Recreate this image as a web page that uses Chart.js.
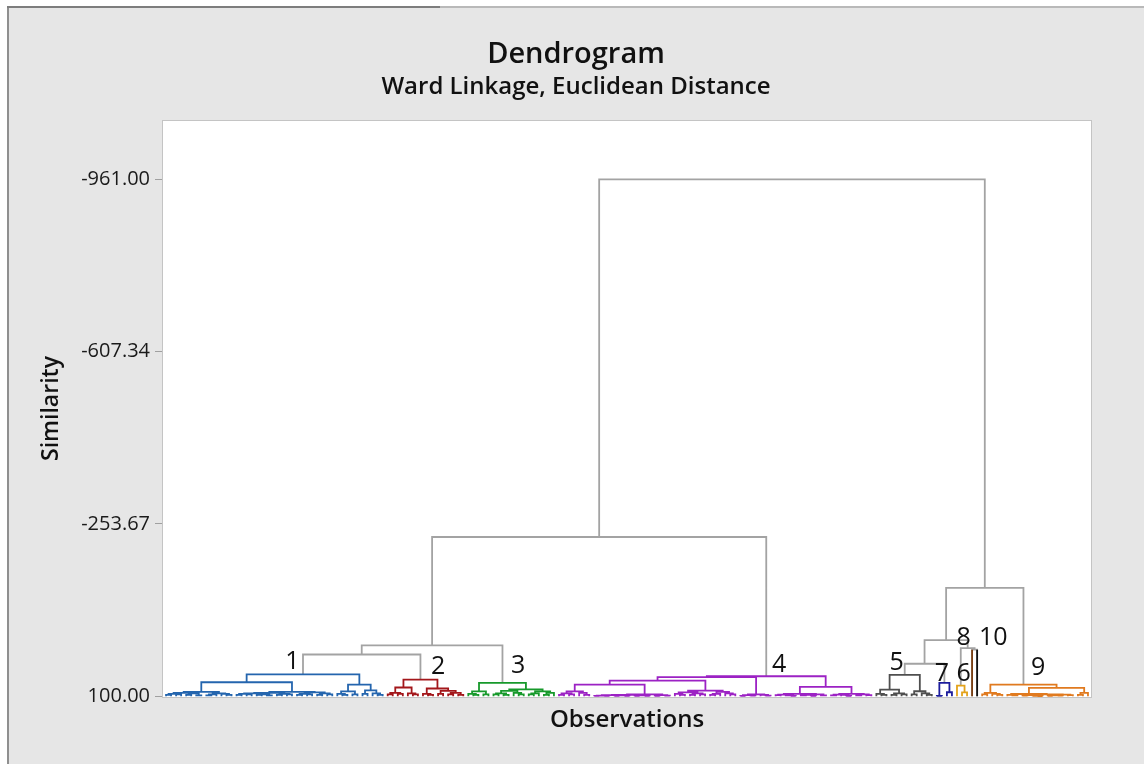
<!DOCTYPE html>
<html>
<head>
<meta charset="utf-8">
<script src="https://cdn.jsdelivr.net/npm/chart.js@4.4.1/dist/chart.umd.min.js"></script>
<style>
  html, body { margin: 0; padding: 0; background: #fff; }
  #frame { position: absolute; left: 7px; top: 6px; width: 1137px; height: 758px; background: #e6e6e6;
           border-left: 2px solid #8f8f8f; border-top: 2px solid #b9b9b9; }
  #topdark { position: absolute; left: 7px; top: 6px; width: 433px; height: 2px; background: #7d7d7d; }
  #wrap { position: absolute; left: 0; top: 0; width: 1144px; height: 764px; }
</style>
</head>
<body>
<div id="frame"></div><div id="topdark"></div>
<div id="wrap"><canvas id="myChart"></canvas></div>
<script>
// merge node = [similarity, left, right], leaf = 0
const cluster1 = [55,
  [71.2,
    [91, [93, [95,[97,0,0],[96,0,0]], [94,[97,0,0],[98,0,0]]],
         [94, [96,[98,0,0],0], [95,0,[97,0,0]]]],
    [91, [93, [94, [95,[97,0,0],[96,0,0]], [96,[97,0,0],[98,0,0]]], [95,[97,0,0],[96,0,0]]],
         [92, [95,[97,0,0],[96,0,0]], [94,[97,0,0],[96,0,0]]]]],
  [75.9,
    [90, [95,0,[97,0,0]], [96,0,0]],
    [88, [95,0,0], [94,0,[97,0,0]]]]];
const cluster2 = [65.7,
  [82, [93,[96,0,0],[95,0,0]], [94,0,[96,0,0]]],
  [84, [95,0,[97,0,0]], [89,[95,0,0],[93,[96,0,0],[97,0,0]]]]];
const cluster3 = [72.7,
  [90, [95,0,[97,0,0]], [96,0,0]],
  [86, [89, [94,[96,0,0],[97,0,0]], [93,0,[96,0,0]]],
       [90, [94,[96,0,0],0], [93,[97,0,0],0]]]];
const cluster4 = [58.9,
  [60.9,
    [67.7,
      [75.9,
        [90, [94,[97,0,0],[96,0,0]], [93,0,[97,0,0]]],
        [96, [97, [97.5,[98.5,[99.2,0,0],[99,0,0]],[98.2,[99,0,0],[99.3,0,0]]], [98,[99,0,0],[99.2,0,0]]],
             [97.5,[99,0,0],[98.5,0,0]]]],
      [88.3,
        [92, [95,0,[97,0,0]], [94,[97,0,0],[96,0,0]]],
        [91, [95,[97,0,0],0], [94,0,[96,0,0]]]]],
    [96, [97.5,[99,0,0],[98.5,0,0]], [97,0,[98.5,0,0]]]],
  [80.9,
    [95, [96.5,[97.5,0,0],[98,0,[99,0,0]]], [96,[97,[98,0,0],[99,0,0]],[98,0,0]]],
    [95, [96.5,[98,0,0],[97,0,[99,0,0]]], [96,[98,0,0],[97.5,0,0]]]]];
const cluster5 = [56,
  [86.2, [95,0,[97,0,0]], [94,[97,0,0],[96,0,0]]],
  [89.7, [96,0,0], [94,0,[97,0,0]]]];
const cluster6 = [78, 0, [92,0,0]];
const cluster7 = [72.6, [99,0,0], [91.8,0,0]];
const cluster8 = 0;
const cluster9 = [75.9,
  [93.2, [96,0,0], [95,0,[97,0,0]]],
  [82.9,
    [95.3, [97,0,[98,0,0]],
           [96, [97.5,[98.5,0,0],[99,0,[99.5,0,0]]], [96.5,[98,[99,0,0],[98.5,0,0]],[97.5,0,0]]]],
    [93.2, [97,0,0], 0]]];
const cluster10 = 0;

// joins between the clusters ('cN' = cluster N)
const upperTree = [-961.00,
  [-227.0, [-4.3, [14.3, 'c1', 'c2'], 'c3'], 'c4'],
  [-122.7, [-15.2, [33.2, 'c5', 'c7'], [1.3, 'c6', [4.4, 'c8', 'c10']]], 'c9']];

const clusterTrees = [cluster1, cluster2, cluster3, cluster4, cluster5, cluster6, cluster7, cluster8, cluster9, cluster10];
const clusterColors = ['#2465ae', '#a3171b', '#17992b', '#9c22c4', '#4f4f4f', '#e3a21a', '#1c1c9c', '#7b3f12', '#e07a1f', '#111111'];
const linkColor = '#a3a3a3';

const clusterLabels = ['1', '2', '3', '4', '5', '6', '7', '8', '9', '10'];
const labelX = [25.1, 54.0, 69.9, 121.7, 145.0, 158.3, 154.0, 158.3, 173.1, 164.2];
const labelY = [29.1, 40.4, 38.3, 36.3, 31.5, 54.3, 54.3, -20.7, 41.8, -20.7];

const yTickValues = [100, -253.67, -607.34, -961.00];
const yTickLabels = ['100.00', '-253.67', '-607.34', '-961.00'];

let leafCount = 0;
const segs = {};
function addLine(color, pts) {
  if (!segs[color]) segs[color] = [];
  pts.forEach(p => segs[color].push({x: p[0], y: p[1]}));
  segs[color].push({x: pts[pts.length - 1][0], y: null});
}
function place(node, color) {
  if (typeof node === 'string') {
    const k = Number(node.slice(1)) - 1;
    const r = place(clusterTrees[k], clusterColors[k]);
    r.own = clusterColors[k];
    r.single = clusterTrees[k] === 0;
    return r;
  }
  if (node === 0) return {x: leafCount++, y: 100};
  const [h, a, b] = node;
  const l = place(a, color), r = place(b, color);
  addLine(color, [[l.x, l.y], [l.x, h], [r.x, h], [r.x, r.y]]);
  if (l.single) addLine(l.own, [[l.x, l.y], [l.x, h]]);
  if (r.single) addLine(r.own, [[r.x, r.y], [r.x, h]]);
  return {x: (l.x + r.x) / 2, y: h};
}
place(upperTree, linkColor);

const datasets = Object.keys(segs).map(c => ({
  data: segs[c],
  borderColor: c,
  borderWidth: 1.8,
  pointRadius: 0,
  tension: 0,
  spanGaps: false,
  order: c === linkColor ? 2 : 1
}));

const plotBack = {
  id: 'plotBack',
  beforeDraw(chart) {
    const {ctx, chartArea: a} = chart;
    ctx.save();
    ctx.fillStyle = '#ffffff';
    ctx.fillRect(a.left, a.top, a.right - a.left, a.bottom - a.top);
    ctx.strokeStyle = '#c4c4c4';
    ctx.lineWidth = 1;
    ctx.strokeRect(a.left + 0.5, a.top + 0.5, a.right - a.left - 1, a.bottom - a.top);
    ctx.restore();
  }
};

const texts = {
  id: 'texts',
  afterDraw(chart) {
    const {ctx, chartArea: a} = chart;
    const xs = chart.scales.x, ys = chart.scales.y;
    ctx.save();
    ctx.fillStyle = '#111';
    ctx.textAlign = 'center';
    ctx.textBaseline = 'middle';
    ctx.font = '600 29px "Open Sans"';
    ctx.fillText('Dendrogram', 576, 55);
    ctx.font = '600 24px "Open Sans"';
    ctx.fillText('Ward Linkage, Euclidean Distance', 576, 87);
    ctx.fillText('Observations', (a.left + a.right) / 2, 720);
    ctx.font = '600 23px "Open Sans"';
    ctx.save();
    ctx.translate(51, (a.top + a.bottom) / 2);
    ctx.rotate(-Math.PI / 2);
    ctx.fillText('Similarity', 0, 0);
    ctx.restore();
    ctx.font = '25px "Open Sans"';
    clusterLabels.forEach((t, i) => {
      ctx.fillText(t, xs.getPixelForValue(labelX[i]), ys.getPixelForValue(labelY[i]));
    });
    ctx.restore();
  }
};

new Chart(document.getElementById('myChart'), {
  type: 'line',
  data: {datasets: datasets},
  options: {
    responsive: true,
    maintainAspectRatio: false,
    animation: false,
    layout: {padding: {top: 120, right: 52, bottom: 67, left: 0}},
    plugins: {legend: {display: false}, tooltip: {enabled: false}},
    scales: {
      x: {type: 'linear', display: false, min: -0.8, max: leafCount - 1 + 0.8},
      y: {
        type: 'linear', reverse: true, min: -1083, max: 101.5,
        afterFit(s) { s.width = 162; },
        afterBuildTicks(s) { s.ticks = yTickValues.map(v => ({value: v})); },
        ticks: {
          callback: v => yTickLabels[yTickValues.indexOf(v)],
          font: {family: 'Open Sans', size: 20},
          color: '#1a1a1a',
          padding: 5
        },
        grid: {drawOnChartArea: false, tickLength: 7, color: '#a0a0a0'},
        border: {display: false}
      }
    }
  },
  plugins: [plotBack, texts]
});
</script>
</body>
</html>
